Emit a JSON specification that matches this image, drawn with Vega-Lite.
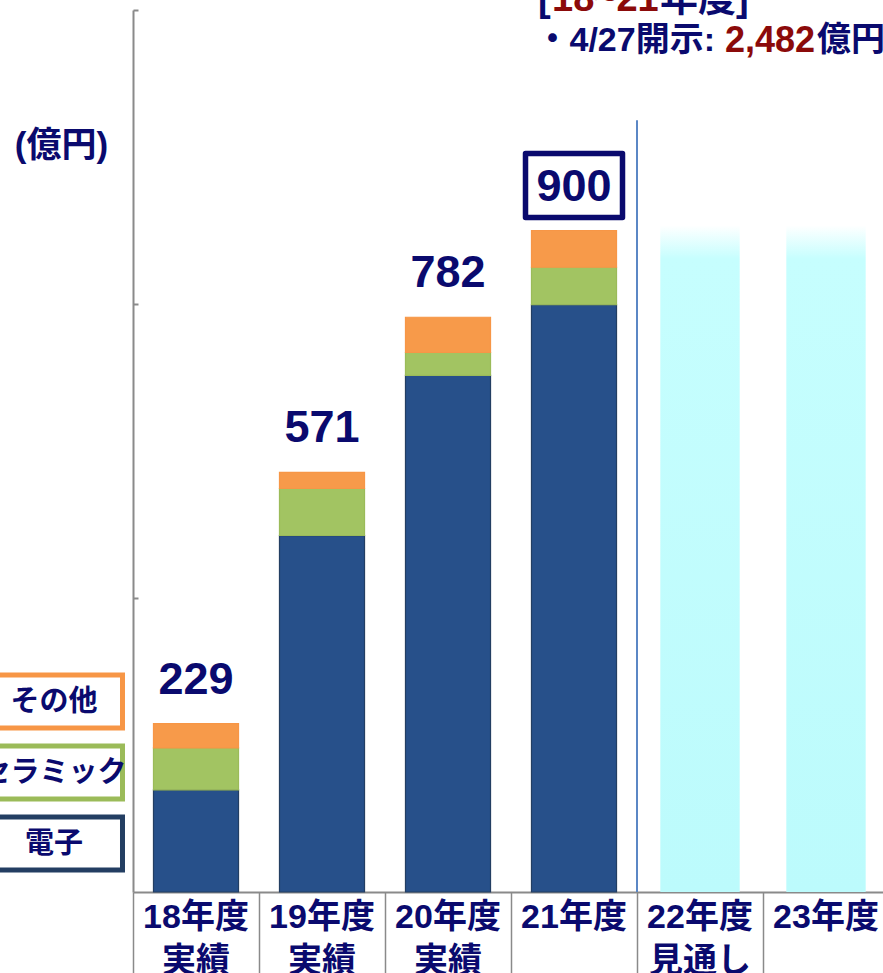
{
  "$schema": "https://vega.github.io/schema/vega-lite/v6.json",
  "width": 750,
  "height": 882,
  "autosize": {"type": "none"},
  "padding": {"left": 133, "top": 10, "right": 0, "bottom": 81},
  "background": "white",
  "config": {
    "view": {"stroke": null},
    "font": "Liberation Sans, Noto Sans CJK JP"
  },
  "datasets": {
    "segments": [
      {"cat": "18年度", "series": "電子", "value": 139},
      {"cat": "18年度", "series": "セラミック", "value": 57},
      {"cat": "18年度", "series": "その他", "value": 33},
      {"cat": "19年度", "series": "電子", "value": 485},
      {"cat": "19年度", "series": "セラミック", "value": 64},
      {"cat": "19年度", "series": "その他", "value": 22},
      {"cat": "20年度", "series": "電子", "value": 703},
      {"cat": "20年度", "series": "セラミック", "value": 31},
      {"cat": "20年度", "series": "その他", "value": 48},
      {"cat": "21年度", "series": "電子", "value": 799},
      {"cat": "21年度", "series": "セラミック", "value": 51},
      {"cat": "21年度", "series": "その他", "value": 50}
    ],
    "forecast": [
      {"cat": "22年度", "value": 907},
      {"cat": "23年度", "value": 907}
    ]
  },
  "layer": [
    {
      "data": {"name": "forecast"},
      "mark": {
        "type": "bar",
        "width": {"band": 0.63},
        "color": {
          "gradient": "linear",
          "x1": 0, "y1": 0, "x2": 0, "y2": 1,
          "stops": [
            {"offset": 0, "color": "#FFFFFF"},
            {"offset": 0.05, "color": "#C6FEFE"},
            {"offset": 1, "color": "#BCFBFC"}
          ]
        }
      },
      "encoding": {
        "x": {
          "field": "cat", "type": "nominal", "title": null,
          "scale": {
            "domain": ["18年度", "19年度", "20年度", "21年度", "22年度", "23年度"],
            "range": [0, 756],
            "paddingInner": 0,
            "paddingOuter": 0
          },
          "axis": {
            "title": null,
            "labelAngle": 0,
            "domainColor": "#8A8A8A",
            "domainWidth": 2,
            "bandPosition": 0,
            "tickColor": "#8A8A8A",
            "tickWidth": 1.5,
            "tickSize": 85,
            "labelPadding": -77,
            "labelFontSize": 34,
            "labelFontWeight": "bold",
            "labelColor": "#0A0A6E",
            "labelFont": "Liberation Sans, Noto Sans CJK JP",
            "labelLineHeight": 44,
            "labelBaseline": "top",
            "labelOverlap": false,
            "labelBound": false,
            "labelFlush": false,
            "labelLimit": 300,
            "labelExpr": "datum.value === '22年度' ? ['22年度', '見通し'] : ((datum.value === '21年度' || datum.value === '23年度') ? [datum.value] : [datum.value, '実績'])",
            "encode": {
              "ticks": {
                "update": {
                  "y2": {"signal": "(datum.value === '22年度' || datum.value === '23年度') ? 43 : 85"}
                }
              }
            }
          }
        },
        "y": {
          "field": "value", "type": "quantitative", "title": "(億円)",
          "scale": {"domain": [0, 1200], "nice": false},
          "axis": {
            "title": "(億円)",
            "labels": false,
            "grid": false,
            "values": [400, 800, 1200],
            "tickSize": -5,
            "tickColor": "#8A8A8A",
            "tickWidth": 2,
            "domainColor": "#8A8A8A",
            "domainWidth": 2,
            "titleAngle": 0,
            "titleX": -72,
            "titleY": 135,
            "titleAlign": "center",
            "titleBaseline": "middle",
            "titleFontSize": 35,
            "titleFontWeight": "bold",
            "titleColor": "#0A0A6E",
            "titleFont": "Liberation Sans, Noto Sans CJK JP"
          }
        }
      }
    },
    {
      "data": {"values": [{}]},
      "mark": {"type": "rule", "color": "#5B87C5", "strokeWidth": 2},
      "encoding": {
        "x": {"datum": "22年度", "type": "nominal", "bandPosition": 0, "title": null},
        "y": {"datum": 0, "type": "quantitative", "title": "(億円)"},
        "y2": {"datum": 1050}
      }
    },
    {
      "data": {"name": "segments"},
      "mark": {"type": "bar", "width": {"band": 0.675}, "strokeWidth": 1.2},
      "encoding": {
        "x": {"field": "cat", "type": "nominal", "title": null},
        "y": {"field": "value", "type": "quantitative", "stack": "zero", "title": "(億円)"},
        "order": {"field": "series", "sort": "descending"},
        "color": {
          "field": "series", "type": "nominal",
          "scale": {
            "domain": ["電子", "セラミック", "その他"],
            "range": ["#27508A", "#A2C462", "#F79A4A"]
          },
          "legend": null
        },
        "stroke": {
          "field": "series", "type": "nominal",
          "scale": {
            "domain": ["その他", "セラミック", "電子"],
            "range": ["#F79646", "#9BBB59", "#233E62"]
          },
          "legend": {
            "orient": "none",
            "legendX": -116,
            "legendY": 660,
            "title": null,
            "direction": "vertical",
            "padding": 0,
            "offset": 0,
            "symbolType": "M-2.5517,-0.9138H2.5517V0.9138H-2.5517Z",
            "symbolSize": 3364,
            "symbolStrokeWidth": 5,
            "symbolFillColor": "#FFFFFF",
            "symbolOpacity": 1,
            "labelAlign": "center",
            "labelBaseline": "middle",
            "labelOffset": -26,
            "labelFontSize": 29,
            "labelFontWeight": "bold",
            "labelColor": "#0A0A6E",
            "labelFont": "Noto Sans CJK JP",
            "labelLimit": 400,
            "rowPadding": -4
          }
        }
      }
    },
    {
      "data": {"name": "segments"},
      "transform": [
        {"aggregate": [{"op": "sum", "field": "value", "as": "total"}], "groupby": ["cat"]}
      ],
      "mark": {
        "type": "text", "dy": -44, "fontSize": 45, "fontWeight": "bold",
        "color": "#0A0A6E", "font": "Liberation Sans", "baseline": "middle", "align": "center"
      },
      "encoding": {
        "x": {"field": "cat", "type": "nominal", "title": null},
        "y": {"field": "total", "type": "quantitative", "title": "(億円)"},
        "text": {"field": "total", "type": "quantitative", "format": ","}
      }
    },
    {
      "data": {"name": "segments"},
      "transform": [
        {"aggregate": [{"op": "sum", "field": "value", "as": "total"}], "groupby": ["cat"]},
        {"filter": "datum.cat === '21年度'"}
      ],
      "mark": {
        "type": "point", "shape": "M-1,-0.66H1V0.66H-1Z", "size": 9409,
        "filled": false, "stroke": "#0A0A6E", "strokeWidth": 5.5, "opacity": 1,
        "strokeJoin": "round", "yOffset": -45
      },
      "encoding": {
        "x": {"field": "cat", "type": "nominal", "title": null},
        "y": {"field": "total", "type": "quantitative", "title": "(億円)"}
      }
    },
    {
      "data": {"values": [{"note": "["}]},
      "mark": {"type": "text", "align": "left", "baseline": "middle", "dx": -36, "dy": -10, "fontSize": 38, "fontWeight": "bold", "color": "#0A0A6E"},
      "encoding": {
        "x": {"datum": "21年度", "type": "nominal", "title": null},
        "y": {"datum": 1200, "type": "quantitative", "title": "(億円)"},
        "text": {"field": "note"}
      }
    },
    {
      "data": {"values": [{"note": "18~21"}]},
      "mark": {"type": "text", "align": "left", "baseline": "middle", "dx": -22, "dy": -10, "fontSize": 38, "fontWeight": "bold", "color": "#8B0A0A"},
      "encoding": {
        "x": {"datum": "21年度", "type": "nominal", "title": null},
        "y": {"datum": 1200, "type": "quantitative", "title": "(億円)"},
        "text": {"field": "note"}
      }
    },
    {
      "data": {"values": [{"note": "年度]"}]},
      "mark": {"type": "text", "align": "left", "baseline": "middle", "dx": 86, "dy": -10, "fontSize": 38, "fontWeight": "bold", "color": "#0A0A6E"},
      "encoding": {
        "x": {"datum": "21年度", "type": "nominal", "title": null},
        "y": {"datum": 1200, "type": "quantitative", "title": "(億円)"},
        "text": {"field": "note"}
      }
    },
    {
      "data": {"values": [{"note": "・4/27開示:"}]},
      "mark": {"type": "text", "align": "right", "baseline": "middle", "dx": 141, "dy": 31, "fontSize": 34, "fontWeight": "bold", "color": "#0A0A6E"},
      "encoding": {
        "x": {"datum": "21年度", "type": "nominal", "title": null},
        "y": {"datum": 1200, "type": "quantitative", "title": "(億円)"},
        "text": {"field": "note"}
      }
    },
    {
      "data": {"values": [{"note": "2,482"}]},
      "mark": {"type": "text", "align": "left", "baseline": "middle", "dx": 151, "dy": 31, "fontSize": 36, "fontWeight": "bold", "color": "#8B0A0A"},
      "encoding": {
        "x": {"datum": "21年度", "type": "nominal", "title": null},
        "y": {"datum": 1200, "type": "quantitative", "title": "(億円)"},
        "text": {"field": "note"}
      }
    },
    {
      "data": {"values": [{"note": "億円"}]},
      "mark": {"type": "text", "align": "left", "baseline": "middle", "dx": 243, "dy": 31, "fontSize": 34, "fontWeight": "bold", "color": "#0A0A6E"},
      "encoding": {
        "x": {"datum": "21年度", "type": "nominal", "title": null},
        "y": {"datum": 1200, "type": "quantitative", "title": "(億円)"},
        "text": {"field": "note"}
      }
    }
  ]
}
